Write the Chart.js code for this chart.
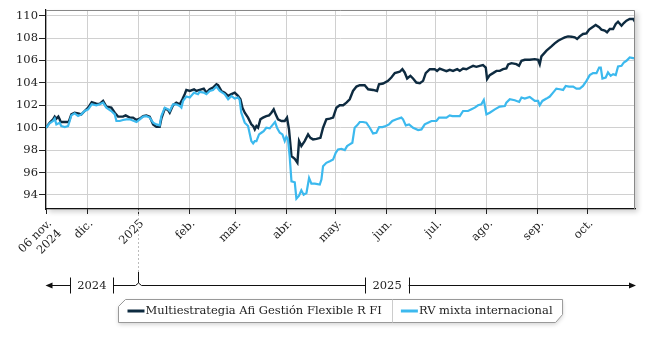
<!DOCTYPE html>
<html>
<head>
<meta charset="utf-8">
<script src="https://cdn.jsdelivr.net/npm/chart.js@4/dist/chart.umd.min.js"></script>
<style>
  html, body { margin: 0; padding: 0; background: #fff; }
  #wrap { width: 650px; height: 338px; }
</style>
</head>
<body>
<div id="wrap"><canvas id="grafico" width="650" height="338"></canvas></div>
<script>
// Días desde el 06/11/2024 y valor base 100
const nombreMulti = 'Multiestrategia Afi Gestión Flexible R FI';
const nombreRV = 'RV mixta internacional';

const diasMulti = [0, 2.2, 4.3, 5.3, 6.3, 7.5, 8.3, 8.9, 11.4, 13.8, 15.4, 17.4, 19.5, 21.5, 23.5, 25.6, 27.8, 30.6, 32.6, 34.7,
    36.7, 39.7, 41.8, 43.8, 46.8, 48.4, 50.9, 52.9, 55.0, 57.0, 59.0, 61.0, 63.0, 65.1, 67.1, 69.1, 70.1, 72.2, 74.2, 75.2,
    77.2, 79.2, 81.3, 82.9, 84.3, 85.3, 87.4, 90.0, 91.4, 93.4, 95.9, 97.5, 99.5, 101.5, 103.6, 104.6, 106.6, 108.6, 110.7, 112.7,
    114.7, 116.7, 118.2, 119.4, 120.8, 122.8, 124.8, 125.9, 126.9, 127.9, 128.9, 130.3, 131.9, 133.9, 135.6, 137.0, 138.4, 139.6, 141.0, 143.1,
    145.1, 146.5, 147.7, 149.2, 151.2, 152.8, 153.8, 155.2, 157.2, 159.3, 160.7, 162.3, 164.4, 166.8, 168.4, 170.4, 172.5, 174.5, 176.5, 178.5,
    180.6, 182.6, 184.6, 186.6, 188.7, 190.7, 193.7, 195.8, 198.8, 201.2, 202.4, 204.9, 207.9, 209.9, 212.0, 215.0, 216.6, 218.0, 219.5, 221.5,
    223.1, 225.1, 227.2, 229.2, 230.8, 233.3, 236.3, 237.7, 239.3, 241.3, 243.4, 245.4, 247.4, 249.9, 251.5, 253.5, 255.5, 257.5, 259.6, 261.6,
    263.6, 265.6, 267.3, 268.1, 269.7, 271.7, 273.8, 275.8, 277.8, 279.8, 280.9, 282.9, 285.9, 287.5, 289.0, 291.0, 294.0, 297.1, 299.1, 300.1,
    301.1, 304.2, 307.2, 309.2, 311.3, 313.3, 315.3, 317.3, 319.4, 321.4, 322.8, 324.4, 326.4, 328.5, 330.1, 332.1, 334.1, 336.2, 337.6, 339.6,
    341.0, 342.7, 344.7, 346.3, 347.7, 349.8, 351.2, 352.8, 354.8, 356.9, 357.9];
const valoresMulti = [100.00, 100.45, 100.75, 100.99, 100.81, 100.99, 100.75, 100.51, 100.51, 100.51, 101.19, 101.34, 101.28, 101.19, 101.49, 101.79, 102.27, 102.15, 102.12, 102.39,
    101.88, 101.79, 101.34, 100.99, 100.99, 101.10, 100.90, 100.90, 100.69, 100.81, 101.04, 101.10, 100.99, 100.30, 100.09, 100.09, 100.81, 101.70, 101.58, 101.34,
    102.00, 102.24, 102.09, 102.54, 102.99, 103.37, 103.28, 103.43, 103.28, 103.37, 103.49, 103.13, 103.43, 103.58, 103.88, 103.79, 103.28, 103.13, 102.84, 102.99,
    103.13, 102.84, 102.54, 101.79, 101.34, 100.90, 100.30, 100.15, 99.85, 100.15, 100.00, 100.75, 100.90, 101.04, 101.10, 101.34, 101.64, 101.19, 100.75, 100.60,
    100.60, 100.90, 99.85, 97.46, 97.22, 96.87, 98.81, 98.36, 98.81, 99.40, 99.10, 98.96, 99.01, 99.10, 100.00, 100.75, 100.81, 100.90, 101.79, 102.00,
    102.00, 102.24, 102.54, 103.28, 103.67, 103.79, 103.79, 103.43, 103.37, 103.28, 103.88, 103.94, 104.18, 104.48, 104.87, 104.99, 105.22, 104.93, 104.39, 104.63,
    104.39, 104.03, 103.97, 104.18, 104.87, 105.22, 105.22, 105.07, 105.28, 105.16, 105.04, 105.16, 105.07, 105.22, 105.07, 105.28, 105.22, 105.37, 105.52, 105.43,
    105.52, 105.58, 105.37, 104.33, 104.69, 104.87, 105.07, 105.07, 105.22, 105.28, 105.64, 105.76, 105.67, 105.52, 105.97, 106.06, 106.06, 106.12, 106.06, 105.67,
    106.36, 106.87, 107.25, 107.52, 107.76, 107.91, 108.06, 108.15, 108.12, 108.06, 107.91, 108.15, 108.36, 108.42, 108.75, 108.96, 109.16, 108.96, 108.75, 108.66,
    108.51, 108.81, 108.81, 109.25, 109.46, 109.10, 109.34, 109.55, 109.70, 109.70, 109.46];

const diasRV = [0, 2.2, 4.3, 5.3, 6.3, 8.3, 9.3, 11.4, 13.4, 14.4, 15.4, 17.4, 19.5, 21.5, 23.5, 25.6, 27.8, 30.6, 32.6, 34.7,
    36.7, 39.7, 41.8, 42.8, 44.8, 46.8, 48.8, 50.9, 55.0, 57.0, 59.0, 61.0, 63.0, 65.1, 67.1, 69.1, 70.1, 72.2, 74.2, 75.2,
    77.2, 79.2, 81.3, 82.3, 83.3, 85.3, 87.4, 90.0, 92.4, 93.4, 95.9, 97.5, 99.5, 101.5, 103.6, 105.6, 108.6, 110.7, 112.7, 114.7,
    116.7, 117.7, 118.7, 120.8, 122.8, 124.8, 125.9, 126.9, 127.9, 129.5, 130.9, 132.3, 133.9, 136.0, 138.0, 139.2, 140.4, 142.1, 143.7, 145.1,
    146.1, 147.1, 148.1, 149.2, 151.2, 152.2, 153.8, 155.2, 156.6, 158.3, 159.9, 161.3, 163.4, 166.4, 167.4, 168.4, 170.4, 172.5, 174.5, 176.1,
    177.5, 179.5, 181.6, 183.0, 184.6, 186.2, 187.6, 189.1, 190.7, 192.7, 194.7, 196.8, 198.8, 200.8, 202.5, 204.5, 206.5, 208.5, 210.5, 213.0,
    216.0, 217.0, 218.7, 220.7, 223.1, 226.2, 228.2, 230.2, 232.2, 234.3, 237.3, 238.9, 241.3, 243.4, 245.4, 247.0, 249.5, 251.5, 253.5, 256.5,
    258.6, 260.6, 262.6, 264.6, 266.1, 267.7, 269.7, 272.8, 275.8, 278.9, 279.8, 281.9, 284.9, 287.6, 289.0, 291.0, 294.0, 297.1, 299.1, 300.1,
    301.7, 304.2, 306.2, 308.2, 310.2, 312.3, 314.3, 315.9, 317.9, 320.4, 322.4, 324.4, 326.4, 328.5, 330.5, 332.5, 334.6, 336.2, 337.2, 338.2,
    340.2, 341.6, 343.2, 344.7, 346.3, 347.7, 349.8, 351.2, 352.8, 354.8, 356.9, 357.9];
const valoresRV = [100.00, 100.39, 100.60, 100.81, 100.30, 100.45, 100.15, 100.06, 100.15, 100.60, 101.10, 101.28, 101.04, 101.19, 101.49, 101.64, 102.09, 102.00, 102.09, 102.24,
    101.79, 101.49, 101.19, 100.60, 100.60, 100.69, 100.75, 100.75, 100.51, 100.75, 100.99, 101.04, 100.90, 100.45, 100.30, 100.21, 101.04, 101.79, 101.64, 101.49,
    102.09, 102.09, 101.94, 101.79, 102.39, 102.78, 102.69, 103.13, 102.99, 103.19, 103.13, 102.99, 103.28, 103.37, 103.67, 103.28, 102.99, 102.54, 102.84, 102.60,
    102.69, 102.48, 101.34, 100.45, 100.15, 98.81, 98.60, 98.81, 98.81, 99.40, 99.55, 99.70, 100.00, 99.94, 100.30, 100.51, 100.00, 99.55, 99.40, 98.81,
    99.19, 98.96, 97.46, 95.22, 95.13, 93.67, 93.94, 94.42, 94.03, 94.18, 95.52, 95.01, 95.01, 94.93, 95.37, 96.57, 96.87, 97.01, 97.16, 97.76,
    98.06, 98.12, 98.00, 98.36, 98.51, 98.66, 100.00, 100.21, 100.51, 100.51, 100.45, 100.00, 99.49, 99.55, 100.06, 100.06, 100.15, 100.30, 100.60, 100.75,
    100.90, 100.75, 100.21, 100.30, 100.00, 99.79, 99.85, 100.30, 100.45, 100.60, 100.60, 100.90, 100.90, 100.90, 101.10, 101.04, 101.04, 101.04, 101.49, 101.49,
    101.64, 101.79, 102.00, 102.09, 102.48, 101.19, 101.34, 101.64, 101.88, 101.94, 102.24, 102.54, 102.45, 102.30, 102.69, 102.60, 102.75, 102.39, 102.39, 102.00,
    102.39, 102.60, 102.78, 103.13, 103.49, 103.43, 103.37, 103.73, 103.67, 103.67, 103.49, 103.49, 103.73, 104.18, 104.69, 104.87, 104.87, 105.37, 105.37, 104.39,
    104.48, 104.93, 104.63, 104.78, 104.69, 105.46, 105.52, 105.82, 105.97, 106.27, 106.21, 106.18];

// marcas del eje x (día desde el 06/11/2024)
const diasMarca = [0, 25, 56, 87, 115, 146, 176, 207, 237, 268, 299, 329];
const etiquetasMes = [['06 nov.', '2024'], 'dic.', '2025', 'feb.', 'mar.', 'abr.', 'may.', 'jun.', 'jul.', 'ago.', 'sep.', 'oct.'];
const marcasY = [94, 96, 98, 100, 102, 104, 106, 108, 110];
const anios = ['2024', '2025'];
const limitesAnio = [0, 56, 358];

const colorMulti = '#0e2b40';
const colorRV = '#3cb9ee';
const fuente = '"DejaVu Serif", "Liberation Serif", serif';
const tamFuente = 11.5;

function puntos(dias, valores) {
    return dias.map((d, i) => ({ x: d, y: valores[i] }));
}

const decoracion = {
    id: 'decoracion',
    beforeDraw(chart) {
        const { ctx, chartArea: a } = chart;
        ctx.save();
        ctx.shadowColor = 'rgba(0,0,0,0.18)';
        ctx.shadowBlur = 5;
        ctx.shadowOffsetX = 3;
        ctx.shadowOffsetY = 3;
        ctx.fillStyle = '#fff';
        ctx.fillRect(a.left, a.top, a.right - a.left, a.bottom - a.top);
        ctx.restore();
    },
    afterDraw(chart) {
        const { ctx, chartArea: a } = chart;
        const xs = chart.scales.x;
        ctx.save();

        // borde superior y derecho
        ctx.strokeStyle = '#888';
        ctx.lineWidth = 1;
        ctx.beginPath();
        ctx.moveTo(a.left, a.top + 0.5);
        ctx.lineTo(a.right - 0.5, a.top + 0.5);
        ctx.lineTo(a.right - 0.5, a.bottom);
        ctx.stroke();

        // línea de tiempo con los años
        const yLinea = 285.5;
        ctx.font = tamFuente + 'px ' + fuente;
        ctx.textAlign = 'center';
        ctx.textBaseline = 'middle';
        ctx.fillStyle = '#222';
        ctx.strokeStyle = '#111';
        const x0 = a.left - 0.5;
        const x1 = a.right + 1;
        const tramos = [];
        for (let i = 0; i < anios.length; i++) {
            const xa = i === 0 ? x0 : xs.getPixelForValue(limitesAnio[i]);
            const xb = i === anios.length - 1 ? x1 : xs.getPixelForValue(limitesAnio[i + 1]);
            const centro = (xa + xb) / 2;
            const mitad = ctx.measureText(anios[i]).width / 2 + 7;
            tramos.push([centro - mitad, centro + mitad]);
            ctx.fillText(anios[i], centro, yLinea + 1);
        }
        ctx.beginPath();
        let desde = x0 + 5;
        tramos.forEach(t => {
            ctx.moveTo(desde, yLinea);
            ctx.lineTo(t[0], yLinea);
            ctx.moveTo(Math.round(t[0]) + 0.5, yLinea - 8);
            ctx.lineTo(Math.round(t[0]) + 0.5, yLinea + 8);
            ctx.moveTo(Math.round(t[1]) + 0.5, yLinea - 8);
            ctx.lineTo(Math.round(t[1]) + 0.5, yLinea + 8);
            desde = t[1];
        });
        ctx.moveTo(desde, yLinea);
        ctx.lineTo(x1 - 5, yLinea);
        ctx.stroke();
        // flechas
        ctx.fillStyle = '#111';
        ctx.beginPath();
        ctx.moveTo(x0, yLinea);
        ctx.lineTo(x0 + 7, yLinea - 3);
        ctx.lineTo(x0 + 7, yLinea + 3);
        ctx.closePath();
        ctx.moveTo(x1, yLinea);
        ctx.lineTo(x1 - 7, yLinea - 3);
        ctx.lineTo(x1 - 7, yLinea + 3);
        ctx.closePath();
        ctx.fill();

        // cambio de año
        const xc = Math.round(xs.getPixelForValue(limitesAnio[1])) + 0.5;
        ctx.strokeStyle = '#bbb';
        ctx.setLineDash([2, 2]);
        ctx.beginPath();
        ctx.moveTo(xc, a.bottom + 1);
        ctx.lineTo(xc, 272);
        ctx.stroke();
        ctx.setLineDash([]);
        ctx.fillStyle = '#fff';
        ctx.fillRect(xc - 3, yLinea - 1.5, 6, 3);
        ctx.strokeStyle = '#111';
        ctx.beginPath();
        ctx.moveTo(xc, 272);
        ctx.lineTo(xc, yLinea - 2.5);
        ctx.moveTo(xc - 3, yLinea);
        ctx.lineTo(xc, yLinea - 2.5);
        ctx.lineTo(xc + 3, yLinea);
        ctx.stroke();

        // leyenda
        const series = [[nombreMulti, colorMulti], [nombreRV, colorRV]];
        const anchos = series.map(s => 9 + 17 + 2 + ctx.measureText(s[0]).width + 9);
        const total = anchos.reduce((s, w) => s + w, 0);
        let xl = Math.round((a.left + a.right) / 2 - total / 2) + 0.5;
        const yt = 299.5, yb = 322.5, ym = 311;
        const xr = xl + total;
        ctx.save();
        ctx.shadowColor = 'rgba(0,0,0,0.18)';
        ctx.shadowBlur = 4;
        ctx.shadowOffsetY = 2;
        ctx.fillStyle = '#fff';
        ctx.beginPath();
        ctx.moveTo(xl, yt + 7);
        ctx.lineTo(xl + 7, yt);
        ctx.lineTo(xr, yt);
        ctx.lineTo(xr, yb - 8);
        ctx.lineTo(xr - 7, yb);
        ctx.lineTo(xl, yb);
        ctx.closePath();
        ctx.fill();
        ctx.restore();
        ctx.strokeStyle = '#999';
        ctx.stroke();

        ctx.textAlign = 'left';
        let xi = xl;
        series.forEach((s, i) => {
            if (i > 0) {
                ctx.strokeStyle = '#ccc';
                ctx.beginPath();
                ctx.moveTo(Math.round(xi) + 0.5, yt);
                ctx.lineTo(Math.round(xi) + 0.5, yb);
                ctx.stroke();
            }
            ctx.strokeStyle = s[1];
            ctx.lineWidth = 3;
            ctx.beginPath();
            ctx.moveTo(xi + 9, ym);
            ctx.lineTo(xi + 26, ym);
            ctx.stroke();
            ctx.lineWidth = 1;
            ctx.fillStyle = '#222';
            ctx.fillText(s[0], xi + 27, ym + 0.5);
            xi += anchos[i];
        });
        ctx.restore();
    }
};

new Chart(document.getElementById('grafico'), {
    type: 'line',
    data: {
        datasets: [{
            label: nombreMulti,
            data: puntos(diasMulti, valoresMulti),
            borderColor: colorMulti,
            borderWidth: 2.4,
            pointRadius: 0,
            tension: 0,
            order: 1
        }, {
            label: nombreRV,
            data: puntos(diasRV, valoresRV),
            borderColor: colorRV,
            borderWidth: 2.2,
            pointRadius: 0,
            tension: 0,
            order: 0
        }]
    },
    options: {
        responsive: false,
        animation: false,
        layout: { padding: { top: 10, right: 15, left: 0, bottom: 0 } },
        plugins: { legend: { display: false }, tooltip: { enabled: false } },
        scales: {
            x: {
                type: 'linear',
                min: 0,
                max: 358,
                afterBuildTicks: scale => { scale.ticks = diasMarca.map(v => ({ value: v })); },
                afterFit: scale => { scale.height = 129; },
                grid: { color: '#d0d0d0', tickColor: '#222', tickLength: 5 },
                border: { color: '#111', width: 1.2 },
                ticks: {
                    minRotation: 45,
                    maxRotation: 45,
                    padding: 3,
                    labelOffset: 4,
                    color: '#222',
                    font: { family: fuente, size: tamFuente },
                    callback: (v, i) => etiquetasMes[i]
                }
            },
            y: {
                min: 92.75,
                max: 110.5,
                afterBuildTicks: scale => { scale.ticks = marcasY.map(v => ({ value: v })); },
                afterFit: scale => { scale.width = 46; },
                grid: { color: '#d0d0d0', tickColor: '#222', tickLength: 7 },
                border: { color: '#111', width: 1.2 },
                ticks: {
                    padding: 1,
                    color: '#222',
                    font: { family: fuente, size: tamFuente }
                }
            }
        }
    },
    plugins: [decoracion]
});
</script>
</body>
</html>
